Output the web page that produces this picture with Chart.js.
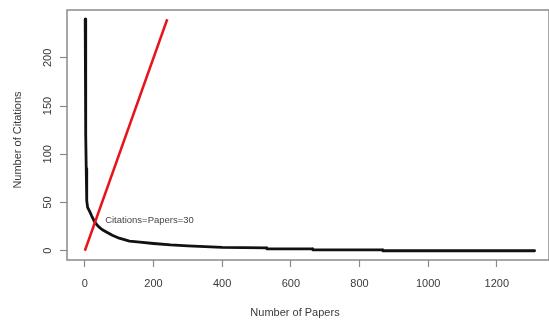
<!DOCTYPE html>
<html>
<head>
<meta charset="utf-8">
<script src="https://cdn.jsdelivr.net/npm/chart.js@4"></script>
<style>
  html, body { margin: 0; padding: 0; background: #fff; }
  #wrap { width: 549px; height: 323px; }
</style>
</head>
<body>
<div id="wrap"><canvas id="chart"></canvas></div>
<script>
// rank of paper vs number of citations
const papers = [1, 2, 3, 4, 5, 6, 8, 15, 20, 30, 40, 50, 60, 80, 100, 130, 160, 200, 250, 300, 400, 529, 530, 663, 664, 867, 868, 1310];
const citations = [240, 180, 120, 85, 65, 52, 45, 40, 36, 29, 25, 22, 20, 16, 13, 10, 9, 7.5, 6, 5, 3.5, 3, 2, 2, 1, 1, 0, 0];

// citations = papers reference line
const diagX = [0, 240];
const diagY = [0, 240];

const xTicks = [0, 200, 400, 600, 800, 1000, 1200];
const yTicks = [0, 50, 100, 150, 200];

const hLabel = "Citations=Papers=30";
const hIndex = 30;

const xTitle = "Number of Papers";
const yTitle = "Number of Citations";

const FONT = "'Liberation Sans', Arial, Helvetica, sans-serif";
const INK = "#3a3a3a";
const AXIS = "#8a8a8a";

function toPoints(xs, ys) {
  return xs.map((x, i) => ({ x: x, y: ys[i] }));
}

// box, h-index label and axis titles
const extras = {
  id: "extras",
  afterDraw(chart) {
    const { ctx, chartArea, scales } = chart;
    ctx.save();
    ctx.strokeStyle = AXIS;
    ctx.lineWidth = 1.5;
    ctx.strokeRect(chartArea.left, chartArea.top, chartArea.right - chartArea.left, chartArea.bottom - chartArea.top);

    ctx.fillStyle = "#444";
    ctx.font = "9.5px " + FONT;
    ctx.textAlign = "left";
    ctx.textBaseline = "middle";
    ctx.fillText(hLabel, scales.x.getPixelForValue(hIndex) + 10, scales.y.getPixelForValue(hIndex) - 1);

    ctx.fillStyle = INK;
    ctx.font = "11px " + FONT;
    ctx.textAlign = "center";
    ctx.fillText(xTitle, 295, 313);
    ctx.translate(18, 140);
    ctx.rotate(-Math.PI / 2);
    ctx.fillText(yTitle, 0, 0);
    ctx.restore();
  }
};

new Chart(document.getElementById("chart"), {
  type: "scatter",
  data: {
    datasets: [
      {
        data: toPoints(diagX, diagY),
        showLine: true,
        borderColor: "#e8141b",
        borderWidth: 2.5,
        pointRadius: 0,
        order: 0
      },
      {
        data: toPoints(papers, citations),
        showLine: true,
        borderColor: "#111",
        borderWidth: 2.8,
        borderJoinStyle: "round",
        borderCapStyle: "round",
        pointRadius: 0,
        order: 1
      }
    ]
  },
  options: {
    responsive: true,
    maintainAspectRatio: false,
    animation: false,
    layout: { padding: { top: 10, right: 0, left: 0, bottom: 0 } },
    plugins: { legend: { display: false }, tooltip: { enabled: false } },
    scales: {
      x: {
        type: "linear",
        min: -52,
        max: 1352,
        afterBuildTicks: (scale) => { scale.ticks = xTicks.map(v => ({ value: v })); },
        afterFit: (scale) => { scale.height = 63; },
        border: { display: false },
        grid: { drawOnChartArea: false, color: AXIS, tickLength: 7, tickWidth: 1.2 },
        ticks: {
          color: INK,
          font: { family: FONT, size: 11 },
          padding: 10,
          maxRotation: 0,
          callback: (v) => String(v)
        }
      },
      y: {
        type: "linear",
        min: -9.6,
        max: 249.6,
        afterBuildTicks: (scale) => { scale.ticks = yTicks.map(v => ({ value: v })); },
        afterFit: (scale) => { scale.width = 67; },
        border: { display: false },
        grid: { drawOnChartArea: false, color: AXIS, tickLength: 7, tickWidth: 1.2 },
        ticks: {
          color: INK,
          font: { family: FONT, size: 11 },
          minRotation: 90,
          maxRotation: 90,
          crossAlign: "center",
          padding: 3,
          callback: (v) => String(v)
        }
      }
    }
  },
  plugins: [extras]
});
</script>
</body>
</html>
